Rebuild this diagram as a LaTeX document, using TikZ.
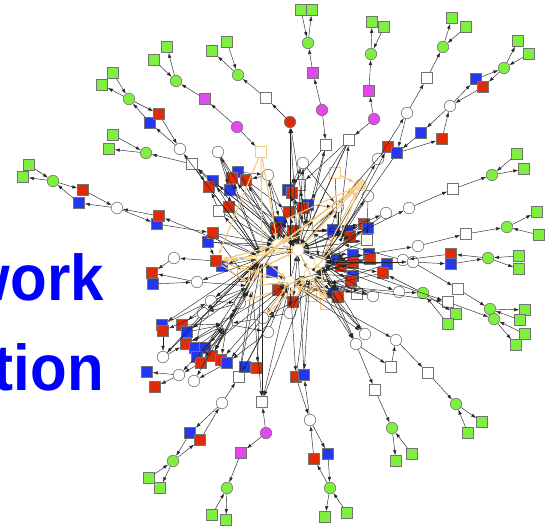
\documentclass[tikz,border=0pt]{standalone}
\usepackage{fontspec}
\usepackage{graphicx}
\setmainfont{Liberation Sans}
\usetikzlibrary{arrows.meta}
\definecolor{leaf}{RGB}{128,240,64}
\definecolor{brick}{RGB}{222,44,8}
\definecolor{royal}{RGB}{36,56,240}
\definecolor{orchid}{RGB}{226,72,240}
\definecolor{peach}{RGB}{245,200,122}
\definecolor{rim}{RGB}{115,115,115}
\tikzset{
  nd/.style={inner sep=0pt, minimum size=11pt, draw=rim, line width=0.6pt},
  nsq/.style={nd, rectangle},
  nci/.style={nd, circle, minimum size=11.5pt},
  ngs/.style={nsq, fill=leaf},
  ngc/.style={nci, fill=leaf},
  nrs/.style={nsq, fill=brick},
  nbs/.style={nsq, fill=royal},
  nws/.style={nsq, fill=white},
  nwc/.style={nci, fill=white},
  nms/.style={nsq, fill=orchid},
  nmc/.style={nci, fill=orchid},
  nrc/.style={nci, fill=brick},
  nos/.style={nsq, fill=white, draw=peach},
  noc/.style={nci, fill=peach!70, draw=peach},
  nhub/.style={nci, fill=white, draw=peach},
  lk/.style={-{Latex[length=5pt,width=3.4pt]}, draw=black!85, line width=0.45pt},
  olk/.style={-{Latex[length=5.5pt,width=4pt]}, draw=peach, line width=1.1pt},
  big/.style={text=blue, font=\bfseries\fontsize{60}{60}\selectfont, inner sep=0pt, anchor=base east}
}
\begin{document}
\begin{tikzpicture}[x=1pt,y=-1pt]
\useasboundingbox (0,0) rectangle (545,530);

% title fragments at the left edge
\node[big] (t1) at (104,300) {\scalebox{1}[1.08]{work}};
\node[big] (t2) at (104,390) {\scalebox{1}[1.08]{tion}};

% ---------- outer branches ----------
\node[ngs] (gs1a) at (167,47) {};
\node[ngs] (gs1b) at (154,60) {};
\node[ngc] (gc1) at (176,81) {};
\node[nms] (ms1) at (205,99) {};
\node[nmc] (mc1) at (237,127) {};
\node[nos] (os1) at (261,152) {};

\node[ngs] (gs2a) at (227,42) {};
\node[ngs] (gs2b) at (212,51) {};
\node[ngc] (gc2) at (238,75) {};
\node[nws] (ws2) at (266,98) {};
\node[nrc] (rc2) at (290,122) {};

\node[ngs] (gs3a) at (113,73) {};
\node[ngs] (gs3b) at (102,85) {};
\node[ngc] (gc3) at (129,99) {};
\node[nbs] (bs3) at (150,123) {};
\node[nrs] (rs3) at (159,114) {};
\node[nwc] (wc3) at (180,149) {};

\node[ngs] (gs4a) at (113,135) {};
\node[ngs] (gs4b) at (109,149) {};
\node[ngc] (gc4) at (146,153) {};
\node[nws] (ws4) at (192,164) {};

\node[ngs] (gs5a) at (29,165) {};
\node[ngs] (gs5b) at (23,177) {};
\node[ngc] (gc5) at (53,181) {};
\node[nrs] (rs5) at (83,190) {};
\node[nbs] (bs5) at (79,203) {};
\node[nwc] (wc5) at (117,208) {};
\node[nbs] (bs5b) at (157,224) {};
\node[nrs] (rs5b) at (159,216) {};

\node[nwc] (wc6) at (174,258) {};
\node[nrs] (rs6) at (152,273) {};
\node[nbs] (bs6) at (153,284) {};
\node[nwc] (wc6b) at (197,282) {};

\node[ngs] (gs7a) at (301,10) {};
\node[ngs] (gs7b) at (312,10) {};
\node[ngc] (gc7) at (308,43) {};
\node[nms] (ms7) at (313,73) {};
\node[nmc] (mc7) at (322,110) {};
\node[nws] (ws7) at (326,145) {};

\node[ngs] (gs8a) at (372,22) {};
\node[ngs] (gs8b) at (384,27) {};
\node[ngc] (gc8) at (371,54) {};
\node[nms] (ms8) at (369,91) {};
\node[nmc] (mc8) at (374,119) {};
\node[nws] (ws8) at (349,140) {};

\node[ngs] (gs9a) at (452,18) {};
\node[ngs] (gs9b) at (466,27) {};
\node[ngc] (gc9) at (443,47) {};
\node[nws] (ws9) at (427,78) {};
\node[nwc] (wc9) at (407,113) {};
\node[nwc] (wc9b) at (378,159) {};

\node[ngs] (gs10a) at (518,41) {};
\node[ngs] (gs10b) at (529,54) {};
\node[ngc] (gc10) at (504,68) {};
\node[nbs] (bs10) at (476,79) {};
\node[nrs] (rs10) at (483,87) {};
\node[nwc] (wc10) at (450,106) {};
\node[nbs] (bs10b) at (421,133) {};
\node[nrs] (rs10b) at (442,139) {};
\node[nrs] (rs10c) at (388,147) {};
\node[nbs] (bs10c) at (397,153) {};

\node[ngs] (gs11a) at (517,154) {};
\node[ngs] (gs11b) at (524,169) {};
\node[ngc] (gc11) at (492,175) {};
\node[nws] (ws11) at (453,189) {};
\node[nwc] (wc11) at (409,208) {};
\node[nwc] (wc11b) at (386,213) {};

\node[ngs] (gs12a) at (537,212) {};
\node[ngs] (gs12b) at (539,235) {};
\node[ngc] (gc12) at (507,227) {};
\node[nws] (ws12) at (466,234) {};
\node[nwc] (wc12) at (418,246) {};

\node[ngs] (gs13a) at (519,256) {};
\node[ngs] (gs13b) at (519,269) {};
\node[ngc] (gc13) at (488,258) {};
\node[nrs] (rs13) at (451,254) {};
\node[nbs] (bs13) at (451,264) {};
\node[nwc] (wc13b) at (403,260) {};
\node[nwc] (wc13) at (413,262) {};

\node[nws] (ws14) at (458,289) {};
\node[ngc] (gc14) at (490,309) {};
\node[ngs] (gs14a) at (525,310) {};
\node[ngs] (gs14b) at (520,320) {};

\node[nws] (ws15) at (448,302) {};
\node[ngc] (gc15) at (494,319) {};
\node[ngs] (gs15a) at (525,334) {};
\node[ngs] (gs15b) at (516,345) {};

\node[ngc] (gc16) at (423,293) {};
\node[ngs] (gs16a) at (456,314) {};
\node[ngs] (gs16b) at (448,324) {};
\node[nwc] (wc16) at (399,292) {};

\node[nwc] (wc19) at (365,334) {};
\node[nwc] (wc17) at (356,344) {};
\node[nws] (ws17) at (375,390) {};
\node[ngc] (gc17) at (392,428) {};
\node[ngs] (gs17a) at (396,461) {};
\node[ngs] (gs17b) at (412,454) {};
\node[nws] (ws17b) at (391,367) {};
\node[nwc] (wc17b) at (396,340) {};

\node[nws] (ws18) at (428,373) {};
\node[ngc] (gc18) at (456,404) {};
\node[ngs] (gs18a) at (482,422) {};
\node[ngs] (gs18b) at (468,433) {};

\node[nrs] (rs20) at (296,377) {};
\node[nbs] (bs20) at (304,375) {};
\node[nwc] (wc20) at (310,420) {};
\node[nbs] (bs20b) at (328,454) {};
\node[nrs] (rs20b) at (314,459) {};
\node[ngc] (gc20) at (330,488) {};
\node[ngs] (gs20a) at (325,517) {};
\node[ngs] (gs20b) at (347,513) {};

\node[nws] (ws21) at (262,402) {};
\node[nmc] (mc21) at (266,433) {};
\node[nms] (ms21) at (241,453) {};
\node[ngc] (gc21) at (227,488) {};
\node[ngs] (gs21a) at (212,515) {};
\node[ngs] (gs21b) at (226,520) {};

\node[nws] (ws22) at (239,377) {};
\node[nwc] (wc22) at (222,403) {};
\node[nbs] (bs22) at (190,433) {};
\node[nrs] (rs22) at (200,440) {};
\node[ngc] (gc22) at (173,461) {};
\node[ngs] (gs22a) at (149,478) {};
\node[ngs] (gs22b) at (160,488) {};
\node[nbs] (bs22b) at (245,367) {};
\node[nrs] (rs22b) at (257,368) {};

% ---------- lower left cluster ----------
\node[nwc] (wcL1) at (211,301) {};
\node[nwc] (wcL2) at (203,313) {};
\node[nwc] (wcL3) at (227,324) {};
\node[nwc] (wcL4) at (240,303) {};
\node[nwc] (wcL5) at (263,318) {};
\node[nwc] (wcL6) at (268,332) {};
\node[nbs] (bsL1) at (162,325) {};
\node[nrs] (rsL1) at (163,331) {};
\node[nrs] (rsL2) at (182,325) {};
\node[nbs] (bsL2) at (187,332) {};
\node[nrs] (rsL3) at (186,344) {};
\node[nbs] (bsL3) at (195,348) {};
\node[nbs] (bsL4) at (205,348) {};
\node[nbs] (bsL5) at (197,357) {};
\node[nrs] (rsL5) at (201,363) {};
\node[nrs] (rsL4) at (212,356) {};
\node[nrs] (rsL6) at (221,360) {};
\node[nbs] (bsL6) at (227,363) {};
\node[nwc] (wcL7) at (163,357) {};
\node[nwc] (wcL8) at (179,375) {};
\node[nwc] (wcL9) at (194,381) {};
\node[nbs] (bsL7) at (147,372) {};
\node[nrs] (rsL7) at (155,387) {};
\node[nwc] (wcL10) at (290,313) {};
\node[nrs] (rsL8) at (293,302) {};

% ---------- core ----------
\node[nwc] (wcC1) at (218,152) {};
\node[nbs] (bsC2) at (213,181) {};
\node[nrs] (rsC3) at (209,187) {};
\node[nbs] (bsC1) at (238,172) {};
\node[nrs] (rsC1) at (232,178) {};
\node[nrs] (rsC2) at (246,180) {};
\node[nbs] (bsC3) at (230,190) {};
\node[nwc] (wcC2) at (268,175) {};
\node[nwc] (wcC3) at (303,163) {};
\node[nws] (wsC1) at (300,185) {};
\node[nbs] (bsC4) at (288,190) {};
\node[nrs] (rsC4) at (292,193) {};
\node[nbs] (bsC5) at (308,205) {};
\node[nrs] (rsC5) at (303,208) {};
\node[nrs] (rsC6) at (289,212) {};
\node[nos] (osC1) at (335,173) {};
\node[noc] (ocC1) at (360,185) {};
\node[nwc] (wcC4) at (368,196) {};
\node[nwc] (wcC10) at (338,207) {};
\node[nws] (wsC2) at (219,211) {};
\node[nrs] (rsC7) at (229,207) {};
\node[nbs] (bsC6) at (208,242) {};
\node[nrs] (rsC8) at (213,233) {};
\node[nbs] (bsC9) at (222,266) {};
\node[nrs] (rsC9) at (216,261) {};
\node[nbs] (bsC10) at (280,222) {};
\node[nrs] (rsC10) at (276,228) {};
\node[nrs] (rsC11) at (293,231) {};
\node[nbs] (bsC11) at (333,230) {};
\node[nbs] (bsC12) at (348,231) {};
\node[nrs] (rsC12) at (350,237) {};
\node[nrs] (rsC13) at (364,224) {};
\node[nbs] (bsC13) at (368,228) {};
\node[nws] (wsC3) at (367,240) {};
\node[nbs] (bsC14) at (353,255) {};
\node[nrs] (rsC14) at (353,263) {};
\node[nbs] (bsC15) at (369,254) {};
\node[nrs] (rsC15) at (370,259) {};
\node[nbs] (bsC16) at (387,264) {};
\node[nrs] (rsC16) at (383,273) {};
\node[nbs] (bsC17) at (353,276) {};
\node[nrs] (rsC17) at (351,281) {};
\node[nbs] (bsC19) at (337,260) {};
\node[nrs] (rsC19) at (341,266) {};
\node[nbs] (bsC18) at (333,293) {};
\node[nrs] (rsC18) at (338,297) {};
\node[nws] (wsC4) at (357,294) {};
\node[nwc] (wcC7) at (373,296) {};
\node[nws] (wsC5) at (245,276) {};
\node[nos] (osC3) at (243,272) {};
\node[nrs] (rsC23) at (278,290) {};
\node[nbs] (bsC24) at (272,272) {};
\node[nos] (osC2) at (326,304) {};
\node[nos] (osC4) at (311,296) {};

% hubs in the dense middle
\node[nhub] (hA) at (298,250) {};
\node[nhub] (hB) at (320,262) {};
\node[nhub] (hC) at (262,258) {};
\node[nhub] (hD) at (290,282) {};
\node[nhub] (hE) at (338,243) {};
\node[nhub] (hF) at (310,274) {};
\node[nhub] (hG) at (278,245) {};
\node[nhub] (hH) at (325,285) {};
\node[nhub] (hI) at (252,286) {};
\node[nhub] (hJ) at (307,232) {};

% ---------- links of the outer branches ----------
\foreach \a/\b in {gc1/gs1a, gs1b/gc1, ms1/gc1, mc1/ms1, mc1/os1,
  gs2a/gc2, gc2/gs2b, ws2/gc2, rc2/ws2, hA/rc2, hD/rc2,
  gs3a/gc3, gc3/gs3b, gc3/rs3, bs3/gc3, rs3/wc3, wc3/bs3, hC/wc3,
  gs4a/gc4, gc4/gs4b, ws4/gc4, hA/ws4, ws4/rsC3,
  gs5a/gc5, gc5/gs5b, gc5/rs5, bs5/gc5, rs5/wc5, wc5/bs5, wc5/bs5b, rs5b/wc5, hC/rs5b, bs5b/rsC8,
  rsC9/wc6, wc6/rs6, wc6b/rs6, bs6/wc6b, hC/wc6b,
  gs7a/gc7, gc7/gs7b, ms7/gc7, mc7/ms7, mc7/ws7, hA/ws7, ws7/bsC4,
  gc8/gs8a, gs8b/gc8, ms8/gc8, mc8/ms8, mc8/ws8, ws8/hA, hE/ws8, ws8/wsC1,
  gc9/gs9a, gs9b/gc9, ws9/gc9, wc9/ws9, wc9b/wc9, wc9/bs10c, hB/wc9b,
  gc10/gs10a, gs10b/gc10, bs10/gc10, gc10/rs10, wc10/bs10, rs10/wc10, wc10/bs10b, rs10b/wc10,
  bs10b/bs10c, bs10c/rs10b, hE/rs10c, bs10c/hB, rs10c/hA,
  gs11a/gc11, gc11/gs11b, ws11/gc11, wc11/ws11, hE/wc11, wc11b/hB, hA/wc11b,
  gc12/gs12a, gs12b/gc12, ws12/gc12, wc12/ws12, hB/wc12,
  gs13a/gc13, gc13/gs13b, gc13/rs13, bs13/gc13, rs13/wc13b, wc13/bs13, hB/wc13, wc13b/hE,
  wc13/ws14, ws14/gc14, gc14/gs14a, gs14b/gc14,
  hA/ws15, ws15/gc15, gs15a/gc15, gc15/gs15b,
  gc16/gs16a, gs16b/gc16, gc16/rsC16, wc16/gc16, hB/wc16,
  hB/wc17, wc17/ws17, ws17/gc17, gc17/gs17a, gs17b/gc17, wc17/ws17b, ws17b/wc17b, hD/wc17b, wc17b/ws18,
  ws18/gc18, gc18/gs18a, gs18b/gc18, hD/wc19, wc19/hB,
  hD/rs20, bs20/hA, rs20/wc20, wc20/bs20, wc20/bs20b, rs20b/wc20, gc20/rs20b, bs20b/gc20, gc20/gs20a, gs20b/gc20,
  hC/ws21, hD/ws21, mc21/ws21, mc21/ms21, ms21/gc21, gs21a/gc21, gc21/gs21b,
  wc22/ws22, ws22/hC, hD/ws22, wc22/bs22, rs22/wc22, bs22/gc22, gc22/rs22, gs22a/gc22, gc22/gs22b,
  bs22b/hD, hC/rs22b}
  \draw[lk] (\a) -- (\b);

% ---------- links of the lower left cluster ----------
\foreach \a/\b in {hC/wcL1, wcL1/rsL2, bsL1/wcL1, wcL2/rsL1, wcL4/wcL2, wcL2/bsL3, hC/wcL4, wcL4/wcL3,
  hD/wcL5, wcL5/wcL3, wcL5/bsL6, wcL3/wcL6, wcL6/hD, rsL1/wcL7, wcL2/wcL7, wcL7/rsL3,
  wcL3/wcL8, wcL8/bsL7, wcL8/rsL7, rsL5/wcL8, wcL3/wcL9, bsL6/wcL9, bsL2/wcL3, wcL3/rsL3,
  bsL3/wcL3, wcL3/bsL4, rsL4/wcL3, wcL3/rsL5, bsL5/wcL3, wcL3/rsL6, rsL2/wcL3, hC/wcL3,
  hD/wcL10, wcL10/wcL5, hA/rsL8, wcL1/wcL4, hC/bsL1, wcL4/rsL4, bsL4/wcL4,
  bsL2/hC, hC/rsL4, bsL5/hD, hD/rsL6, bsL4/hC, hC/wcL2, wcL7/hC, rsL3/hD, wcL6/bsL6}
  \draw[lk] (\a) -- (\b);

% ---------- links of the core ----------
\foreach \n in {bsC1, rsC2, bsC3, wcC2, wsC1, rsC4, bsC10, rsC11, bsC6, bsC11, rsC14, wcC10, hC, hD, hE}
  \draw[lk] (\n) -- (hA);
\foreach \n in {rsC1, bsC2, rsC5, rsC6, wcC3, rsC10, bsC12, rsC13, bsC14, wsC5, hB, wsC3}
  \draw[lk] (hA) -- (\n);
\foreach \n in {bsC5, rsC12, bsC13, wsC3, rsC15, bsC16, bsC17, wsC4, wcC7, bsC19}
  \draw[lk] (\n) -- (hB);
\foreach \n in {wcC4, bsC15, rsC17, bsC18, rsC18, wcC10, hE, rsC16}
  \draw[lk] (hB) -- (\n);
\foreach \n in {rsC3, rsC7, bsC9, rsC8, bsC24, rsC6, wcC1, osC3}
  \draw[lk] (\n) -- (hC);
\foreach \n in {bsC2, wsC2, rsC1, wsC5, hD}
  \draw[lk] (hC) -- (\n);
\foreach \n in {rsC23, bsC18, wcC7, rsC17}
  \draw[lk] (\n) -- (hD);
\foreach \n in {rsC18, bsC24, rsC14, osC4}
  \draw[lk] (hD) -- (\n);
\foreach \n in {osC1, wcC10, bsC11, wcC4, rsC13}
  \draw[lk] (\n) -- (hE);
\foreach \n in {bsC12, bsC13, rsC19}
  \draw[lk] (hE) -- (\n);
\foreach \n in {rsC14, bsC17, rsC18, wsC4, wcL10, rs20, hA, hD, rsC19, osC4}
  \draw[lk] (\n) -- (hF);
\foreach \n in {bsC14, rsC15, rsC23, bs20, wc17, wc19, hB, hH, ws21, wcC7}
  \draw[lk] (hF) -- (\n);
\foreach \n in {bsC1, rsC7, rsC10, bsC10, wsC2, bsC6, rsC8, hC, wcC1}
  \draw[lk] (\n) -- (hG);
\foreach \n in {wcC2, rsC2, rsC6, bsC9, wsC5, wcL1, wcL4, hA, hJ, ws4}
  \draw[lk] (hG) -- (\n);
\foreach \n in {bsC16, rsC16, wcC7, bsC18, wc16}
  \draw[lk] (\n) -- (hH);
\foreach \n in {wsC4, osC2, wc17, ws15, wcL5, hB, wc19}
  \draw[lk] (hH) -- (\n);
\foreach \n in {wcL1, wcL3, wcL4, rsC9, bsC9, wc6b, ws22}
  \draw[lk] (\n) -- (hI);
\foreach \n in {wsC5, wcL2, bsL2, rsL4, ws21, hC, hD, osC3}
  \draw[lk] (hI) -- (\n);
\foreach \n in {rsC5, bsC5, wcC3, wsC1, ws7, ws8, rsC11, hE}
  \draw[lk] (\n) -- (hJ);
\foreach \n in {rsC4, bsC4, wcC10, bsC11, bsC12, rsC13, hA, rc2}
  \draw[lk] (hJ) -- (\n);
\foreach \a/\b in {wcC3/bsC4, rsC4/wcC3, wcC2/rsC2, bsC1/wcC2, wcC1/bsC3, rsC1/wcC1, rsC7/bsC3,
  wsC2/rsC3, rsC5/wsC1, bsC5/wcC10, rsC10/bsC10, wcC2/bsC10, rsC2/rsC6, bsC3/rsC11, wcC3/wcC10,
  rsC11/bsC11, rsC8/wsC5, bsC6/rsC9, wsC4/rsC17, wcC4/wsC3, hA/bsC19, ws8/bsC5, hD/hF, hI/hC}
  \draw[lk] (\a) -- (\b);

% ---------- pale links ----------
\foreach \a/\b in {os1/hC, os1/rsC9, hA/ocC1, osC1/ocC1, bsC10/ocC1, hB/ocC1, ocC1/hC, rsC9/hA,
  hC/rsC9, hD/rsC9, rsL8/hD, hD/rsC23, wcL5/hD, hA/osC2, osC2/hD, hB/osC2, hC/hD, rsC11/hC,
  wsC5/hA, hE/ocC1, rsC23/wcL4, os1/hG, hJ/ocC1, ocC1/hG, rsC23/hF, hF/osC2, osC2/hH, hH/hF,
  hI/hD, wcL5/hF, hC/hI, rsL8/hF, osC3/hG, hI/osC3, hG/rsC9, rsC9/hI, hA/hG, hF/osC4, osC4/hD,
  hJ/hG, hE/hF, rsC11/hG, bsC24/hI}
  \draw[olk] (\a) -- (\b);
\end{tikzpicture}
\end{document}
